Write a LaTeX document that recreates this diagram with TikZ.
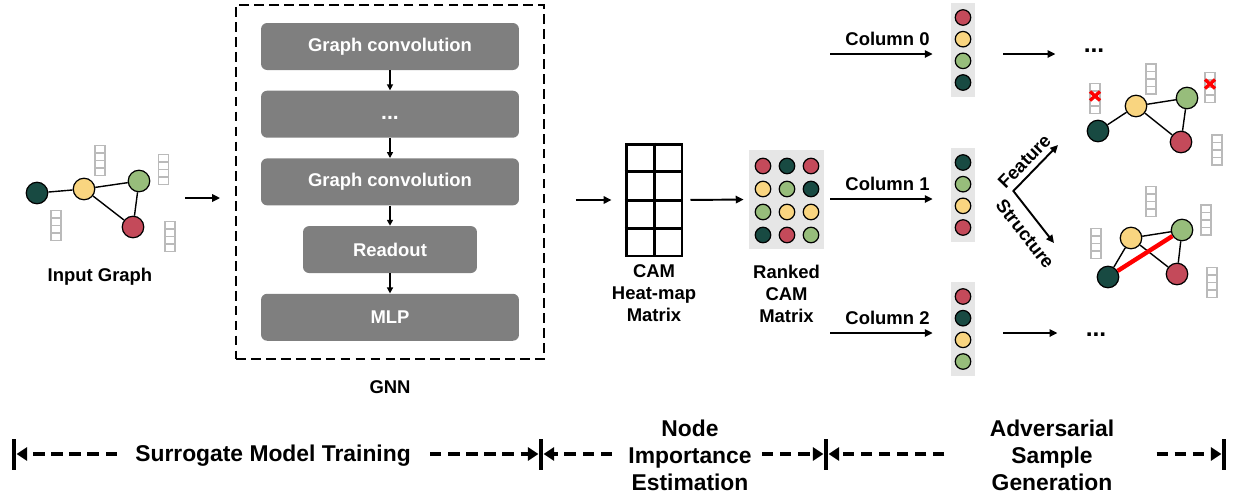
\documentclass[tikz,border=0pt]{standalone}
\usepackage{fontspec}
\setmainfont{Liberation Sans}
\usetikzlibrary{arrows.meta, positioning, calc, fit}

\definecolor{nodedark}{RGB}{24,74,66}
\definecolor{nodeyellow}{RGB}{249,213,128}
\definecolor{nodegreen}{RGB}{151,189,123}
\definecolor{nodered}{RGB}{196,74,90}
\definecolor{boxgray}{RGB}{127,127,127}
\definecolor{panelgray}{RGB}{230,230,230}

\tikzset{
  vecline/.style={draw=black!27, line width=1pt},
  featvec/.pic={
    \draw [vecline] (-5,-15) rectangle (5,15);
    \foreach \k in {-7.5,0,7.5}
      \draw [vecline] (-5,\k) -- (5,\k);
  },
  xmark/.pic={
    \draw [red, line width=1.9pt] (-5,-4.5) -- (5,4.5) (-5,4.5) -- (5,-4.5);
  }
}

\begin{document}
\begin{tikzpicture}[
    x=0.02cm, y=-0.02cm,
    every node/.style={font=\fontsize{10.5}{12.5}\selectfont\bfseries},
    gnnbox/.style={rectangle, rounded corners=3.5pt, fill=boxgray, text=white, minimum width=5.16cm, minimum height=0.94cm},
    gnnframe/.style={draw, line width=1.2pt, dash pattern=on 5.5pt off 3pt},
    ball/.style={circle, draw=black, line width=0.7pt, minimum size=0.43cm, inner sep=0pt},
    chip/.style={ball, minimum size=0.31cm},
    panel/.style={rectangle, fill=panelgray, inner sep=0pt},
    camgrid/.style={draw, line width=1.7pt, minimum width=1.12cm, minimum height=2.24cm, inner sep=0pt},
    link/.style={line width=0.8pt},
    addedge/.style={red, line width=2.5pt},
    arrow/.style={-{Triangle[length=4.5pt,width=4.2pt]}, line width=1.1pt},
    thinarrow/.style={-{Triangle[length=3.4pt,width=3.4pt]}, line width=0.85pt},
    more/.style={inner sep=0pt, font=\fontsize{14}{14}\selectfont\bfseries},
    stagelabel/.style={font=\fontsize{13}{15.4}\selectfont\bfseries, align=center, inner sep=0pt},
    barnode/.style={rectangle, fill=black, inner sep=0pt, minimum width=0.09cm, minimum height=0.62cm},
    span/.style={-{Triangle[length=6pt,width=7.5pt]}, line width=2.3pt, dash pattern=on 6.5pt off 3.8pt}
]
\useasboundingbox (0,0) rectangle (1236,498);

% input graph
\node (in1) [ball, fill=nodedark] at (37,193) {};
\node (in2) [ball, fill=nodeyellow] at (84,189) {};
\node (in3) [ball, fill=nodegreen] at (139,181) {};
\node (in4) [ball, fill=nodered] at (133,227) {};
\draw [link] (in1) -- (in2) (in2) -- (in3) (in2) -- (in4) (in3) -- (in4);
\foreach \pt in {(100,160.5),(163.5,169.5),(56,225.5),(170,236.5)}
  \pic at \pt {featvec};
\node (inlabel) at (100,277) {Input Graph};

% GNN stack
\node (conv1) [gnnbox] at (390,46.5) {Graph convolution};
\node (convdots) [gnnbox, below=0.4cm of conv1, font=\fontsize{12}{14}\selectfont\bfseries] {\vphantom{Gg}...};
\node (conv2) [gnnbox, below=0.4cm of convdots] {Graph convolution};
\node (readout) [gnnbox, below=0.4cm of conv2, minimum width=3.48cm] {Readout};
\node (mlp) [gnnbox, below=0.4cm of readout] {MLP};
\foreach \a/\b in {conv1/convdots, convdots/conv2, conv2/readout, readout/mlp}
  \draw [thinarrow] (\a) -- (\b);
\node (gnn) [gnnframe, fit=(conv1)(mlp), inner xsep=0.49cm, inner ysep=0.35cm] {};
\node (gnnlabel) [below=0.3cm of gnn] {GNN};

\coordinate (inout) at (185,198);
\draw [arrow, shorten >=0.3cm] (inout) -- (inout -| gnn.west);

% CAM heat-map matrix
\node (cam) [camgrid] at (654,200) {};
\draw [line width=1.7pt] (cam.north) -- (cam.south);
\foreach \f in {0.25,0.5,0.75}
  \draw [line width=1.7pt] ($(cam.north west)!\f!(cam.south west)$) -- ($(cam.north east)!\f!(cam.south east)$);
\node (camlabel) [align=center, below=0.02cm of cam] {CAM\\Heat-map\\Matrix};
\draw [arrow, shorten <=0.62cm, shorten >=0.26cm] (gnn.east |- cam) -- (cam);

% ranked CAM matrix
\node (ranked) [panel, minimum width=1.5cm, minimum height=1.98cm] at (786.5,199.5) {};
\foreach \c [count=\i from 0] in {nodered,nodedark,nodered,nodeyellow,nodegreen,nodedark,nodegreen,nodeyellow,nodeyellow,nodedark,nodered,nodegreen}{
  \pgfmathtruncatemacro{\col}{mod(\i,3)}
  \pgfmathtruncatemacro{\row}{\i/3}
  \node (rk\i) [chip, fill=\c] at (763+24*\col,166+23*\row) {};
}
\node (rankedlabel) [align=center, below=0.19cm of ranked] {Ranked\\CAM\\Matrix};
\draw [arrow, shorten <=0.14cm, shorten >=0.1cm] (cam.east) -- (ranked.west);

% sorted columns
\foreach \name/\yc/\colors in {col0/50/{nodered,nodeyellow,nodegreen,nodedark},
                               col1/195/{nodedark,nodegreen,nodeyellow,nodered},
                               col2/329/{nodered,nodedark,nodeyellow,nodegreen}}{
  \node (\name) [panel, minimum width=0.48cm, minimum height=1.88cm] at (963,\yc) {};
  \foreach \c [count=\k from 0] in \colors
    \node (\name-\k) [chip, fill=\c] at (963,\yc-32.5+21.67*\k) {};
}
\foreach \name/\txt in {col0/Column 0, col1/Column 1, col2/Column 2}
  \draw [arrow, shorten <=0.12cm, shorten >=0.36cm] ($(ranked.east |- \name)+(0,4)$) -- node [above=1pt] {\txt} ($(\name.west)+(0,4)$);

\node (dots0) [more] at (1094,51) {...};
\node (dots2) [more] at (1096,335) {...};
\draw [arrow, shorten <=0.56cm, shorten >=0.56cm] ($(col0.east)+(0,4)$) -- ($(dots0.west |- col0.east)+(0,4)$);
\draw [arrow, shorten <=0.56cm, shorten >=0.56cm] ($(col2.east)+(0,4)$) -- ($(dots2.west |- col2.east)+(0,4)$);

% feature / structure perturbation
\coordinate (split) at ($(col1.east)+(38,-4)$);
\coordinate (ftip) at (1058,145);
\coordinate (stip) at (1054,243);
\draw [arrow, {Triangle[length=4.5pt,width=4.2pt]}-{Triangle[length=4.5pt,width=4.2pt]}] (ftip) -- (split) -- (stip);
\path (split) -- node (featlabel) [sloped, above, pos=0.45] {Feature} (ftip);
\path (split) -- node (structlabel) [sloped, below=2.5pt, pos=0.62] {Structure} (stip);

% feature-perturbed graph
\node (fa) [ball, fill=nodedark] at (1098,131) {};
\node (fb) [ball, fill=nodeyellow] at (1136,106) {};
\node (fc) [ball, fill=nodegreen] at (1187,98) {};
\node (fd) [ball, fill=nodered] at (1181,142) {};
\draw [link] (fa) -- (fb) (fb) -- (fc) (fb) -- (fd) (fc) -- (fd);
\foreach \pt in {(1095,98.5),(1151,79),(1210,87.5),(1217,150)}
  \pic at \pt {featvec};
\pic at (1095,96) {xmark};
\pic at (1210,84) {xmark};

% structure-perturbed graph
\node (sa) [ball, fill=nodedark] at (1108,277) {};
\node (sb) [ball, fill=nodeyellow] at (1131,238) {};
\node (sc) [ball, fill=nodegreen] at (1182,230) {};
\node (sd) [ball, fill=nodered] at (1177,274) {};
\draw [link] (sa) -- (sb) (sb) -- (sc) (sb) -- (sd) (sc) -- (sd);
\draw [addedge] (sa) -- (sc);
\foreach \pt in {(1096,243.5),(1151,201.5),(1206,220),(1212,282.5)}
  \pic at \pt {featvec};

% pipeline stages
\node (b0) [barnode] at (14,454) {};
\node (b1) [barnode] at (541,454) {};
\node (b2) [barnode] at (826,454) {};
\node (b3) [barnode] at (1224,454) {};
\node (st1) [stagelabel] at (273,456) {Surrogate Model Training};
\node (st2) [stagelabel] at (690,455) {Node\\Importance\\Estimation};
\node (st3) [stagelabel] at (1052,455) {Adversarial\\Sample\\Generation};
\draw [span, shorten <=0.36cm] (st1.west |- b0) -- (b0);
\draw [span, shorten <=0.38cm] (st1.east |- b1) -- (b1);
\draw [span, shorten <=0.32cm] (st2.west |- b1) -- (b1);
\draw [span, shorten <=0.2cm] (st2.east |- b2) -- (b2);
\draw [span, shorten <=0.9cm] (st3.west |- b2) -- (b2);
\draw [span, shorten <=0.84cm] (st3.east |- b3) -- (b3);
\end{tikzpicture}
\end{document}
